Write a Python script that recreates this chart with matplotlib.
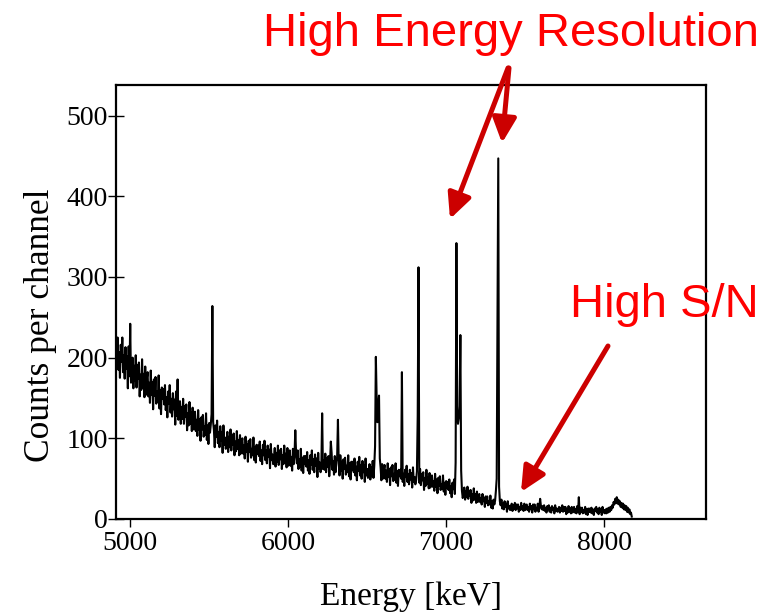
import numpy as np
import matplotlib.pyplot as plt
from matplotlib.patches import FancyArrowPatch

# Spectrum, one value per 5 keV starting at 4910 keV
start_kev = 4910
step_kev = 5
counts = [
    219, 196, 225, 185, 207, 175, 216, 195, 225, 182, 203, 174, 213, 186, 202, 162, 214, 177, 242, 169,  # 4910
    180, 200, 162, 190, 171, 203, 163, 191, 174, 194, 152, 179, 160, 198, 163, 180, 151, 189, 154, 174,  # 5010
    182, 152, 169, 144, 184, 154, 170, 136, 173, 153, 176, 143, 158, 145, 178, 137, 160, 130, 163, 149,  # 5110
    161, 142, 166, 135, 151, 126, 158, 143, 166, 132, 149, 127, 156, 136, 148, 117, 158, 128, 173, 123,  # 5210
    131, 146, 118, 139, 124, 149, 118, 140, 127, 142, 110, 131, 116, 145, 118, 132, 109, 138, 111, 127,  # 5310
    133, 109, 123, 103, 135, 111, 124, 97, 126, 111, 129, 102, 115, 104, 131, 98, 116, 93, 119, 107,     # 5410
    117, 130, 264, 120, 110, 89, 116, 102, 122, 94, 108, 89, 115, 97, 108, 82, 116, 92, 101, 87,         # 5510
    95, 108, 83, 102, 89, 111, 85, 104, 92, 106, 79, 96, 84, 109, 87, 98, 79, 104, 81, 94,               # 5610
    100, 81, 91, 75, 102, 83, 93, 71, 97, 83, 99, 76, 87, 79, 101, 73, 89, 70, 92, 81,                   # 5710
    91, 78, 96, 72, 85, 68, 92, 79, 97, 73, 85, 69, 91, 77, 86, 63, 93, 73, 80, 68,                      # 5810
    75, 88, 65, 82, 71, 91, 67, 85, 74, 87, 62, 79, 68, 91, 70, 81, 64, 88, 66, 79,                      # 5910
    85, 66, 77, 60, 87, 68, 79, 110, 82, 69, 85, 62, 74, 65, 87, 60, 76, 57, 78, 68,                     # 6010
    78, 65, 83, 60, 73, 56, 79, 67, 85, 61, 74, 58, 80, 66, 75, 52, 82, 62, 70, 58,                      # 6110
    65, 131, 62, 73, 61, 81, 58, 75, 65, 78, 53, 70, 96, 82, 61, 72, 55, 78, 58, 71,                     # 6210
    77, 123, 69, 54, 79, 60, 71, 50, 74, 62, 76, 55, 66, 58, 79, 53, 69, 49, 71, 61,                     # 6310
    71, 58, 75, 54, 65, 48, 71, 60, 77, 54, 67, 50, 72, 58, 67, 46, 75, 54, 62, 51,                      # 6410
    57, 68, 49, 64, 53, 72, 51, 66, 90, 201, 150, 120, 140, 153, 75, 64, 48, 68, 50, 61,                 # 6510
    67, 50, 60, 46, 69, 52, 62, 42, 64, 53, 67, 47, 56, 49, 69, 45, 59, 41, 61, 53,                      # 6610
    61, 50, 182, 46, 56, 41, 61, 52, 66, 46, 56, 43, 61, 49, 57, 39, 64, 46, 52, 43,                     # 6710
    48, 59, 128, 312, 45, 62, 42, 56, 48, 58, 36, 51, 41, 61, 44, 52, 38, 57, 39, 50,                    # 6810
    54, 40, 47, 35, 56, 40, 49, 32, 51, 41, 53, 36, 43, 37, 54, 34, 45, 30, 47, 39,                      # 6910
    46, 36, 49, 32, 41, 27, 45, 37, 49, 31, 70, 342, 130, 118, 125, 140, 228, 60, 35, 26,                # 7010
    31, 39, 24, 35, 27, 40, 25, 35, 29, 36, 20, 31, 23, 38, 24, 31, 20, 34, 21, 28,                      # 7110
    31, 21, 26, 18, 31, 22, 26, 15, 28, 20, 28, 17, 22, 18, 29, 14, 22, 13, 24, 18,                      # 7210
    23, 35, 50, 255, 447, 40, 22, 17, 24, 13, 19, 12, 22, 15, 19, 9, 22, 13, 16, 11,                     # 7310
    14, 19, 10, 17, 13, 20, 11, 18, 13, 18, 9, 15, 11, 20, 12, 16, 10, 19, 11, 16,                       # 7410
    18, 11, 15, 9, 19, 12, 16, 8, 18, 12, 18, 9, 14, 11, 19, 9, 15, 25, 16, 12,                          # 7510
    16, 11, 17, 10, 14, 8, 16, 12, 17, 9, 14, 8, 16, 11, 14, 7, 17, 10, 13, 9,                           # 7610
    11, 15, 8, 14, 10, 17, 9, 15, 10, 15, 6, 12, 8, 16, 9, 13, 7, 15, 8, 13,                             # 7710
    15, 8, 12, 7, 16, 9, 27, 6, 14, 9, 14, 7, 11, 8, 15, 6, 12, 5, 13, 9,                                # 7810
    13, 8, 14, 7, 11, 5, 13, 10, 15, 8, 12, 6, 14, 9, 12, 5, 15, 8, 11, 7,                               # 7910
    12, 7, 13, 8, 14, 9, 15, 11, 17, 14, 21, 18, 25, 20, 27, 19, 24, 18, 22, 15,                         # 8010
    20, 14, 19, 12, 17, 11, 16, 9, 14, 8, 12, 6, 8, 3,                                                   # 8110
]

x_ticks = [5000, 6000, 7000, 8000]
y_ticks = [0, 100, 200, 300, 400, 500]

W, H = 771, 616


def fig_xy(px, py):
    # pixel position (from top-left) -> figure fraction
    return px / W, 1 - py / H


energy = start_kev + step_kev * np.arange(len(counts))

plt.rcParams["font.family"] = ["Liberation Serif", "DejaVu Serif"]

fig = plt.figure(figsize=(W / 100, H / 100), dpi=100)
ax = fig.add_axes([116 / W, 1 - 519 / H, 590 / W, 434 / H])

ax.plot(energy, counts, color="black", linewidth=1.5)

ax.set_xlim(4910, 8645)
ax.set_ylim(0, 538)
ax.set_xticks(x_ticks)
ax.set_yticks(y_ticks)

for side in ax.spines.values():
    side.set_linewidth(1.6)

ax.tick_params(axis="x", direction="out", length=6, width=1, pad=3, labelsize=20)
ax.tick_params(axis="y", direction="inout", length=12, width=1, pad=0, labelsize=20)

ax.set_xlabel("Energy [keV]", fontsize=24, labelpad=18)
ax.set_ylabel("Counts per channel", fontsize=25.5)
ax.yaxis.set_label_coords(-0.1, 0.447)

# Red annotations
red_text = "#ff0000"
red_arrow = "#cc0000"
arrow_props = dict(
    arrowstyle="-|>,head_length=0.75,head_width=0.36",
    color=red_arrow,
    lw=3.6,
    mutation_scale=20,
    shrinkA=0,
    shrinkB=0)

fig.text(*fig_xy(511, 34), "High Energy Resolution", color=red_text,
         fontsize=34, family="Liberation Sans", ha="center", va="center")
fig.text(*fig_xy(664, 305), "High S/N", color=red_text,
         fontsize=34, family="Liberation Sans", ha="center", va="center")

for tail, tip in [((508, 68), (450, 219)),
                  ((509, 68), (502, 143)),
                  ((608, 346), (521, 492))]:
    fig.patches.append(FancyArrowPatch(
        fig_xy(*tail), fig_xy(*tip), transform=fig.transFigure, **arrow_props))

fig.savefig("out.png", dpi=100)
